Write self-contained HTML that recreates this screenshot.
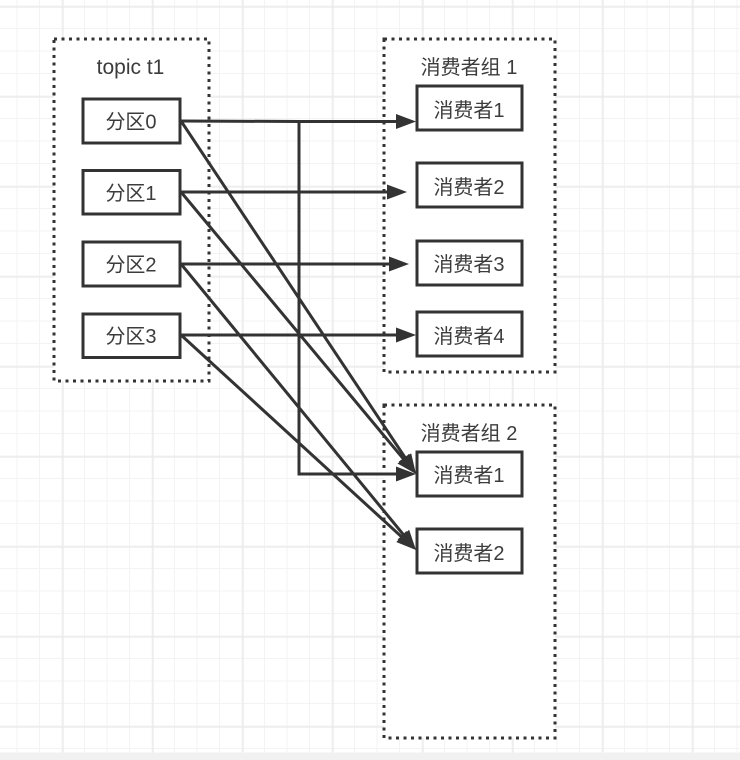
<!DOCTYPE html>
<html><head><meta charset="utf-8"><style>
html,body{margin:0;padding:0;background:#fff;width:740px;height:760px;overflow:hidden}
svg{display:block}
text{font-family:"Liberation Sans","Noto Sans CJK SC",sans-serif;font-size:20px;fill:#3c3c3c;text-anchor:middle}
.b{fill:#fff;stroke:#333;stroke-width:3}
.d{fill:#fff;stroke:#333;stroke-width:3;stroke-dasharray:3 4.5}
.l{fill:none;stroke:#333;stroke-width:3}
.m{marker-end:url(#ar)}
</style></head><body>
<svg width="740" height="760" viewBox="0 0 740 760" xmlns="http://www.w3.org/2000/svg">
<defs>
<pattern id="g" width="22.5" height="22.5" patternUnits="userSpaceOnUse" x="-5" y="-16">
<path d="M22.5 0V22.5M0 22.5H22.5" stroke="#f3f3f3" stroke-width="2" fill="none"/>
</pattern>
<pattern id="G" width="90" height="90" patternUnits="userSpaceOnUse" x="-27.5" y="6.5">
<path d="M0 0V90M0 0H90" stroke="#e9e9e9" stroke-width="2.2" fill="none"/>
</pattern>
<marker id="ar" markerUnits="userSpaceOnUse" markerWidth="20" markerHeight="15" refX="8" refY="7.500" orient="auto">
<path d="M0 0L20 7.500L0 15Z" fill="#333"/>
</marker>
</defs>
<rect width="740" height="760" fill="#f1f1f1"/>
<rect width="740" height="752.500" fill="#fff"/>
<rect width="740" height="752.500" fill="url(#g)"/>
<rect width="740" height="752.500" fill="url(#G)"/>

<rect class="d" x="54" y="39" width="155" height="342"/>
<rect class="d" x="384" y="39" width="171" height="333"/>
<rect class="d" x="384" y="405" width="171" height="333"/>

<text x="130.500" y="74" style="font-size:21px">topic t1</text>
<text x="469" y="74">消费者组 1</text>
<text x="469" y="440">消费者组 2</text>

<rect class="b" x="83" y="99" width="97" height="44"/>
<rect class="b" x="83" y="170.500" width="97" height="43.500"/>
<rect class="b" x="83" y="242" width="97" height="44"/>
<rect class="b" x="83" y="314" width="97" height="43.500"/>
<text x="131" y="128.500">分区0</text>
<text x="131" y="200">分区1</text>
<text x="131" y="271.500">分区2</text>
<text x="131" y="343">分区3</text>

<rect class="b" x="417" y="86" width="105" height="44"/>
<rect class="b" x="417" y="163" width="105" height="44"/>
<rect class="b" x="417" y="241" width="105" height="44"/>
<rect class="b" x="417" y="312" width="105" height="44"/>
<rect class="b" x="417" y="452" width="105" height="44"/>
<rect class="b" x="417" y="529" width="105" height="44"/>
<text x="469" y="117">消费者1</text>
<text x="469" y="194">消费者2</text>
<text x="469" y="271">消费者3</text>
<text x="469" y="343">消费者4</text>
<text x="469" y="482">消费者1</text>
<text x="469" y="560">消费者2</text>

<path class="l m" d="M181 121L299 121.500V474H404"/>
<path class="l m" d="M299 121.500H404"/>
<path class="l m" d="M181 192H395"/>
<path class="l m" d="M181 264H397"/>
<path class="l m" d="M181 335H404"/>
<path class="l m" d="M181 121L409.350 464"/>
<path class="l m" d="M181 192L408.300 464.800"/>
<path class="l m" d="M181 264L408.400 540.700"/>
<path class="l m" d="M181 335L407.100 541.900"/>
</svg>
</body></html>
